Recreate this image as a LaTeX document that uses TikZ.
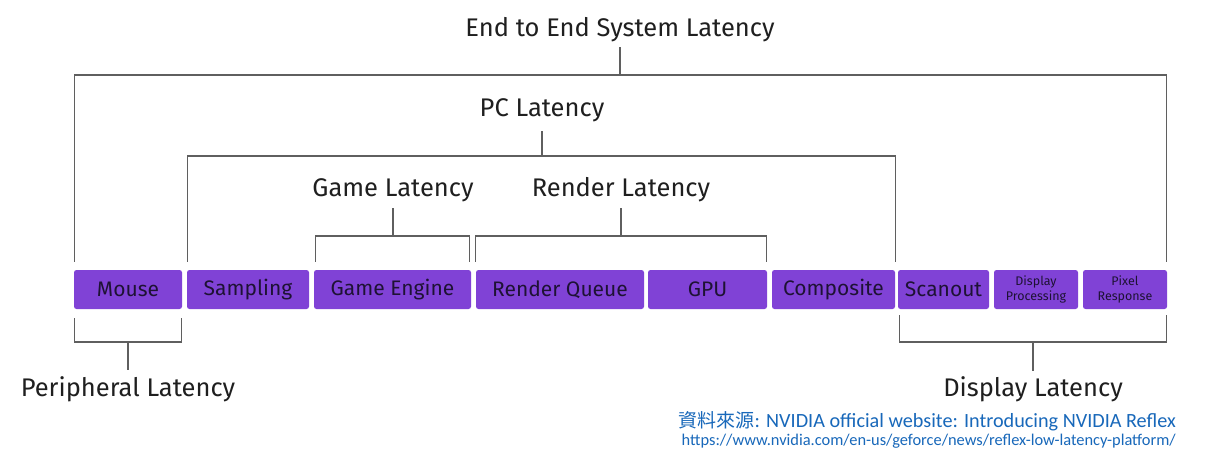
\documentclass[tikz,border=0pt]{standalone}
\usepackage{fontspec}
\setmainfont{Fira Sans}
\newfontfamily\cjkfont{Noto Sans CJK TC}
\newfontfamily\srcfont{Carlito}
\usetikzlibrary{positioning,calc,backgrounds}
\definecolor{boxpurple}{RGB}{128,66,214}
\definecolor{boxtext}{RGB}{30,18,52}
\definecolor{linegray}{RGB}{95,95,95}
\definecolor{srcblue}{RGB}{24,104,186}

\begin{document}
\begin{tikzpicture}[x=1pt,y=-1pt,
  stage/.style={fill=boxpurple,rounded corners=2.5pt,minimum height=39pt,inner sep=0pt,
    text=boxtext,font=\fontsize{21}{23}\selectfont},
  smallstage/.style={stage,align=center,font=\fontsize{12.5}{14.5}\selectfont},
  lbl/.style={text=black!88,inner sep=0pt,font=\fontsize{25.5}{27}\selectfont},
  brk/.style={draw=linegray,line width=1.1pt}]
\useasboundingbox (0,0) rectangle (1212,461);
\fill[white] (0,0) rectangle (1212,461);
% pipeline stages
\node[stage,minimum width=108pt] (mouse) at (128,289.5) {Mouse};
\node[stage,minimum width=122pt] (sampling) at (248,289.5) {Sampling};
\node[stage,minimum width=157pt] (engine) at (392.5,289.5) {Game Engine};
\node[stage,minimum width=168pt] (queue) at (560,289.5) {Render Queue};
\node[stage,minimum width=119pt] (gpu) at (707.5,289.5) {GPU};
\node[stage,minimum width=123pt] (composite) at (833.5,289.5) {Composite};
\node[stage,minimum width=91pt] (scanout) at (943.5,289.5) {Scanout};
\node[smallstage,minimum width=84pt] (dispproc) at (1036,289.5) {Display\\Processing};
\node[smallstage,minimum width=84pt] (pixresp) at (1125,289.5) {Pixel\\Response};
% soft glow under the row
\begin{scope}[on background layer]
  \foreach \b in {mouse,sampling,engine,queue,gpu,composite,scanout,dispproc,pixresp}
    \foreach \g in {3,6,...,18}
      \fill[boxpurple,opacity=0.03,rounded corners=\g pt]
        ([shift={(-\g,-\g+4)}]\b.north west) rectangle ([shift={(\g,\g+4)}]\b.south east);
\end{scope}
% latency labels
\node[lbl] (e2e) at (620,30) {End to End System Latency};
\node[lbl] (pclat) at (542,110) {PC Latency};
\node[lbl] (gamelat) at (393,190) {Game Latency};
\node[lbl] (renderlat) at (621,190) {Render Latency};
\node[lbl] (perilat) at (128,389) {Peripheral Latency};
\node[lbl] (displat) at (1033,389) {Display Latency};
% brackets
\coordinate (e2ebar) at (620,75);
\coordinate (pcbar) at (542,156);
\coordinate (gamebar) at (393,236);
\coordinate (renderbar) at (621,236);
\coordinate (peribar) at (128,342);
\coordinate (dispbar) at (1033,342);
\draw[brk] ([shift={(1,-8)}]mouse.north west) |- (e2ebar) -| ([shift={(-1,-8)}]pixresp.north east);
\draw[brk] (e2ebar) -- ++(0,-28);
\draw[brk] ([shift={(1,-8)}]sampling.north west) |- (pcbar) -| ([shift={(0,-8)}]composite.north east);
\draw[brk] (pcbar) -- ++(0,-25);
\draw[brk] ([shift={(2,-8)}]engine.north west) |- (gamebar) -| ([shift={(-2,-8)}]engine.north east);
\draw[brk] (gamebar) -- ++(0,-28);
\draw[brk] ([shift={(0,-8)}]queue.north west) |- (renderbar) -| ([shift={(-1,-8)}]gpu.north east);
\draw[brk] (renderbar) -- ++(0,-28);
\draw[brk] ([shift={(1,9)}]mouse.south west) |- (peribar) -| ([shift={(-1,9)}]mouse.south east);
\draw[brk] (peribar) -- ++(0,28);
\draw[brk] ([shift={(2,6)}]scanout.south west) |- (dispbar) -| ([shift={(-1,6)}]pixresp.south east);
\draw[brk] (dispbar) -- ++(0,29);
% source note
\node[anchor=base east,inner sep=0pt,text=srcblue,font=\srcfont\fontsize{20.2}{21}\selectfont]
  (srcnote) at (1176,427) {{\cjkfont\fontsize{19}{20}\selectfont 資料來源}: NVIDIA official website: Introducing NVIDIA Reflex};
\node[anchor=base east,inner sep=0pt,text=srcblue,font=\srcfont\fontsize{16.4}{18}\selectfont]
  (srcurl) at (1176,445) {https://www.nvidia.com/en-us/geforce/news/reflex-low-latency-platform/};
\end{tikzpicture}
\end{document}
